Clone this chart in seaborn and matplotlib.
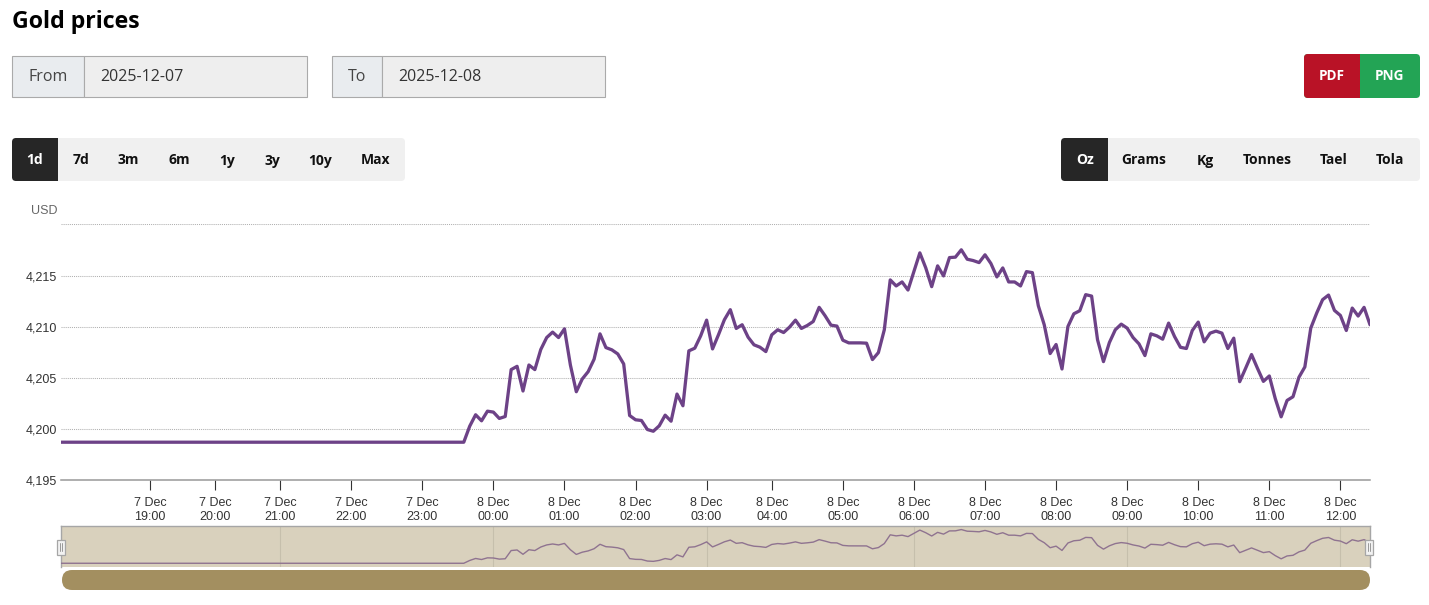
import numpy as np
import pandas as pd
import matplotlib
matplotlib.use('Agg')
import matplotlib.pyplot as plt
from matplotlib.patches import Rectangle, FancyBboxPatch
import seaborn as sns

W, H = 1429, 605

# 5 minute gold price, USD per oz
flat_prices = [4198.73] * 69
prices_a = [4200.29, 4201.41, 4200.82, 4201.76, 4201.67, 4201.05, 4201.24, 4205.82, 4206.14, 4203.73,
            4206.27, 4205.82, 4207.78, 4208.95, 4209.48, 4208.95, 4209.80, 4206.27, 4203.66, 4204.90,
            4205.62, 4206.83, 4209.31, 4207.97, 4207.75, 4207.35, 4206.37, 4201.34, 4200.92, 4200.85,
            4199.97, 4199.80, 4200.33, 4201.37, 4200.78, 4203.43, 4202.29, 4207.65, 4207.91, 4209.12,
            4210.65, 4207.84, 4209.22, 4210.69, 4211.67, 4209.84, 4210.20, 4208.99, 4208.24, 4208.01,
            4207.58, 4209.22, 4209.71]
prices_b = [4209.44, 4209.97, 4210.65, 4209.84, 4210.13, 4210.52, 4211.90, 4211.08, 4210.16, 4210.07,
            4208.69, 4208.43, 4208.43, 4208.43, 4208.40, 4206.80, 4207.48, 4209.71, 4214.58, 4213.99,
            4214.38, 4213.59, 4215.42, 4217.22, 4215.75, 4213.92, 4215.95, 4214.97, 4216.76, 4216.80,
            4217.52, 4216.60, 4216.47, 4216.27, 4217.03, 4216.18, 4214.87, 4215.75, 4214.38, 4214.38,
            4213.99, 4215.39, 4215.29, 4212.06, 4210.20, 4207.39, 4208.27, 4205.88, 4210.03, 4211.27,
            4211.57, 4213.14]
prices_c = [4213.00, 4208.73, 4206.60, 4208.46, 4209.71, 4210.26, 4209.87, 4208.95, 4208.33, 4207.19,
            4209.31, 4209.12, 4208.79, 4210.36, 4209.05, 4208.00, 4207.88, 4209.64, 4210.46, 4208.53,
            4209.38, 4209.58, 4209.38, 4207.88, 4208.89, 4204.64, 4205.95, 4207.29, 4205.95, 4204.67,
            4205.20, 4203.00, 4201.21, 4202.81, 4203.17, 4205.07, 4206.08, 4209.87, 4211.34, 4212.65,
            4213.10, 4211.60, 4211.11, 4209.64, 4211.83, 4211.05, 4211.90, 4210.20]
prices = flat_prices + prices_a + prices_b + prices_c

hour_index = [15, 26, 37, 49, 61, 73, 85, 97, 109, 120, 132, 144, 156, 168, 180, 192, 204, 216]
hour_labels = ['7 Dec\n19:00', '7 Dec\n20:00', '7 Dec\n21:00', '7 Dec\n22:00', '7 Dec\n23:00',
               '8 Dec\n00:00', '8 Dec\n01:00', '8 Dec\n02:00', '8 Dec\n03:00', '8 Dec\n04:00',
               '8 Dec\n05:00', '8 Dec\n06:00', '8 Dec\n07:00', '8 Dec\n08:00', '8 Dec\n09:00',
               '8 Dec\n10:00', '8 Dec\n11:00', '8 Dec\n12:00']
nav_grid_index = [37, 73, 109, 144, 180, 216]
y_ticks = [4195, 4200, 4205, 4210, 4215, 4220]
y_labels = ['4,195', '4,200', '4,205', '4,210', '4,215', '']
range_tabs = ['1d', '7d', '3m', '6m', '1y', '3y', '10y', 'Max']
range_tab_x = [35, 81, 128, 179, 227, 272, 320, 376]
unit_tabs = ['Oz', 'Grams', 'Kg', 'Tonnes', 'Tael', 'Tola']
unit_tab_x = [1085, 1144, 1205, 1267, 1334, 1390]

df = pd.DataFrame({'i': np.arange(len(prices)), 'price': prices})

sns.set_style('white')
plt.rcParams['font.family'] = ['Open Sans', 'DejaVu Sans']

fig = plt.figure(figsize=(W / 100, H / 100), dpi=100, facecolor='white')


def px_axes(x0, y0, x1, y1, **kw):
    return fig.add_axes([x0 / W, 1 - y1 / H, (x1 - x0) / W, (y1 - y0) / H], **kw)


# page widgets, in pixel coordinates
ui = px_axes(0, 0, W, H)
ui.set_xlim(0, W)
ui.set_ylim(H, 0)
ui.axis('off')


def box(x0, y0, x1, y1, fc, ec='none', lw=0, z=1):
    ui.add_patch(Rectangle((x0, y0), x1 - x0, y1 - y0, fc=fc, ec=ec, lw=lw, zorder=z))


def rbox(x0, y0, x1, y1, fc, r=4, z=1):
    ui.add_patch(FancyBboxPatch((x0 + r, y0 + r), x1 - x0 - 2 * r, y1 - y0 - 2 * r,
                                boxstyle=f'round,pad={r},rounding_size={r}', fc=fc, ec='none', zorder=z))


ui.text(12, 21.5, 'Gold prices', fontsize=16.7, fontweight='bold', color='black', va='center')

for x0, x1, x2, lab, val in [(12, 84.5, 307.5, 'From', '2025-12-07'), (332, 382.5, 605.5, 'To', '2025-12-08')]:
    box(x0 + .5, 55.5, x1, 96.5, '#e9ecef', '#aaaaaa', 0.8)
    box(x1, 55.5, x2, 96.5, '#eeeeee', '#aaaaaa', 0.8)
    ui.text((x0 + x1) / 2, 77, lab, fontsize=11.5, color='#444444', ha='center', va='center')
    ui.text(x1 + 16, 77, val, fontsize=11.5, color='#333333', va='center')

rbox(1304, 54, 1420, 98, '#23a455')
rbox(1304, 54, 1345, 98, '#b91226')
box(1320, 54, 1360, 98, '#b91226')
ui.text(1332, 76.5, 'PDF', fontsize=9.8, fontweight='bold', color='white', ha='center', va='center')
ui.text(1389.5, 76.5, 'PNG', fontsize=9.8, fontweight='bold', color='white', ha='center', va='center')

rbox(12, 138, 405, 181, '#f0f0f0')
rbox(12, 138, 40, 181, '#262626', z=2)
box(24, 138, 58, 181, '#262626', z=2)
for lab, x, on in zip(range_tabs, range_tab_x, [True] + [False] * 7):
    ui.text(x, 160.5, lab, fontsize=10, fontweight='bold', color='white' if on else '#111111',
            ha='center', va='center', zorder=3)

rbox(1061, 138, 1420, 181, '#f0f0f0')
rbox(1061, 138, 1090, 181, '#262626', z=2)
box(1075, 138, 1108, 181, '#262626', z=2)
for lab, x, on in zip(unit_tabs, unit_tab_x, [True] + [False] * 5):
    ui.text(x, 160.5, lab, fontsize=10, fontweight='bold', color='white' if on else '#111111',
            ha='center', va='center', zorder=3)

ui.text(58, 211, 'USD', fontsize=9, family='Liberation Sans', color='#666666', ha='right', va='center')

# main price chart
ax = px_axes(61, 224.4, 1370, 480.4)
ax.patch.set_alpha(0)
sns.lineplot(data=df, x='i', y='price', color='#6d4287', linewidth=2.35, ax=ax, zorder=4, clip_on=True)
ax.set_xlim(0, 221)
ax.set_ylim(4195, 4220)
ax.set_xlabel('')
ax.set_ylabel('')
ax.set_yticks(y_ticks, y_labels, fontsize=9, family='Liberation Sans', color='#333333')
ax.set_xticks(hour_index, hour_labels, fontsize=9, family='Liberation Sans', color='#333333', linespacing=1.3)
ax.tick_params(axis='y', length=0, pad=3)
ax.tick_params(axis='x', length=7.2, width=0.8, color='#333333', pad=4.5, direction='out', bottom=True)
ax.grid(axis='y', color='#b0b0b0', linestyle=(0, (1, 1)), linewidth=0.75)
ax.grid(axis='x', visible=False)
for side in ['top', 'left', 'right']:
    ax.spines[side].set_visible(False)
ax.spines['bottom'].set_color('#999999')
ax.spines['bottom'].set_linewidth(1.1)

# navigator
nav = px_axes(61, 526, 1370, 566.5)
nav.set_facecolor('#d9d1bd')
sns.lineplot(data=df, x='i', y='price', color='#8f7390', linewidth=1, ax=nav, zorder=3)
nav.set_xlim(0, 221)
nav.set_ylim(4196.93, 4219.5)
nav.set_xlabel('')
nav.set_ylabel('')
nav.set_yticks([])
nav.set_xticks(nav_grid_index, [''] * len(nav_grid_index))
nav.tick_params(axis='x', length=0)
nav.grid(axis='x', color='#c6bfac', linewidth=0.8)
nav.grid(axis='y', visible=False)
nav.spines['bottom'].set_visible(False)
for side in ['top', 'left', 'right']:
    nav.spines[side].set_color('#a6a6a6')
    nav.spines[side].set_linewidth(1)

# navigator handles and scrollbar
top = px_axes(0, 0, W, H)
top.set_xlim(0, W)
top.set_ylim(H, 0)
top.axis('off')
for cx in [61.5, 1369.5]:
    top.add_patch(Rectangle((cx - 4, 539.5), 8, 15, fc='#f2f2f2', ec='#a6a6a6', lw=0.9, zorder=5))
    top.plot([cx - 1, cx - 1], [543, 551], color='#999999', lw=0.7, zorder=6)
    top.plot([cx + 1, cx + 1], [543, 551], color='#999999', lw=0.7, zorder=6)
top.add_patch(FancyBboxPatch((72, 580), 1288, 0, boxstyle='round,pad=10,rounding_size=10',
                             fc='#a38f60', ec='none', zorder=5))

fig.savefig('out.png', dpi=100, facecolor='white')
